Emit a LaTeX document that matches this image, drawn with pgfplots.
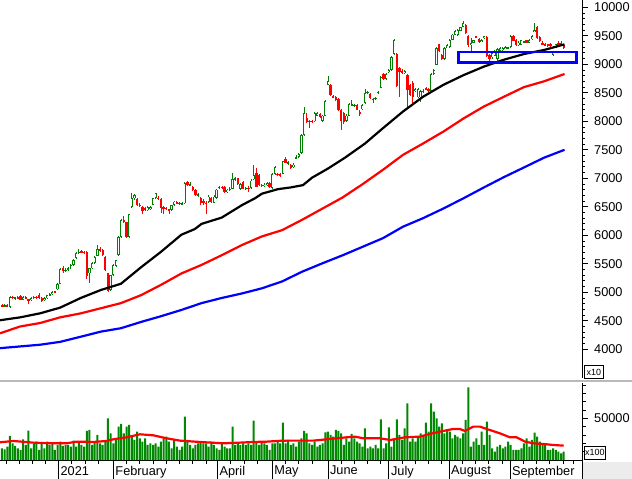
\documentclass[border=0pt]{standalone}
\usepackage{pgfplots}
\pgfplotsset{compat=1.18}
\usepackage{pgfplotstable}
\usepackage{fontspec}
\setmainfont{Liberation Sans}
\definecolor{cgreen}{RGB}{0,128,0}
\definecolor{vgreen}{RGB}{0,136,0}
\definecolor{cred}{RGB}{255,0,0}
\definecolor{cblue}{RGB}{0,0,255}
\pgfplotsset{
  /pgf/number format/assume math mode=true,
  /pgf/number format/1000 sep={},
  upc/.style={restrict expr to domain={\thisrow{c}-\thisrow{o}}{0.5:100000}},
  dnc/.style={restrict expr to domain={\thisrow{c}-\thisrow{o}}{-100000:0.5}},
  ebar/.style={only marks, mark=*, mark size=0pt, mark options={draw=none, fill=none}, forget plot,
    error bars/.cd, y dir=both, y explicit, error mark=none,
    error bar style={line cap=butt, #1}},
}
\pgfplotstableread{
i o h l c v
0 4770 4800 4740 4760 14000
1 4760 4790 4740 4770 12800
2 4770 4800 4750 4760 16000
3 4740 4930 4730 4920 28800
4 4920 4940 4880 4900 20000
5 4900 4920 4870 4910 16800
6 4910 4930 4880 4890 14000
7 4930 4950 4860 4870 12000
8 4870 4930 4860 4920 24800
9 4920 4940 4880 4890 18000
10 4880 4890 4800 4850 35200
11 4860 4910 4850 4900 14000
12 4900 4930 4880 4920 19200
13 4920 4940 4890 4910 22000
14 4950 4980 4890 4900 12000
15 4900 4920 4830 4850 20000
16 4860 4910 4850 4900 14000
17 4900 4960 4890 4950 22000
18 4950 4990 4930 4970 18000
19 4970 5030 4950 5010 20000
20 5010 5030 4980 5000 12000
21 5050 5160 5040 5150 18000
22 5150 5430 5140 5400 22000
23 5430 5460 5330 5380 17000
24 5380 5420 5350 5390 18000
25 5400 5450 5370 5420 18000
26 5420 5500 5400 5480 16000
27 5480 5580 5470 5570 23200
28 5600 5700 5590 5690 16000
29 5700 5760 5680 5710 22000
30 5720 5740 5690 5700 18000
31 5710 5730 5680 5700 16000
32 5700 5720 5230 5290 34800
33 5330 5430 5160 5420 36000
34 5420 5530 5400 5510 18000
35 5510 5630 5500 5620 22000
36 5640 5830 5630 5760 30000
37 5760 5790 5710 5740 20000
38 5740 5760 5640 5650 18000
39 5620 5640 5380 5390 22000
40 5330 5340 5010 5030 50000
41 5040 5310 5030 5300 32000
42 5300 5490 5280 5480 20000
43 5470 5570 5450 5560 24000
44 5650 5980 5640 5970 40000
45 5970 6280 5960 6270 43200
46 6260 6330 6220 6250 32000
47 6230 6240 5950 5970 40000
48 5970 6380 5960 6370 42000
49 6500 6740 6480 6650 28000
50 6650 6730 6620 6700 24000
51 6640 6660 6510 6530 34000
52 6530 6560 6500 6520 26000
53 6500 6520 6370 6430 22000
54 6480 6500 6420 6440 26000
55 6440 6510 6430 6500 18000
56 6460 6520 6450 6500 20000
57 6540 6660 6530 6650 18000
58 6650 6750 6640 6740 20000
59 6660 6690 6620 6640 16000
60 6630 6650 6390 6480 22000
61 6490 6520 6370 6480 26000
62 6480 6500 6440 6470 28000
63 6450 6470 6370 6440 22000
64 6440 6540 6430 6530 14000
65 6530 6600 6520 6590 24000
66 6590 6610 6550 6560 16000
67 6570 6590 6540 6560 12000
68 6540 6580 6530 6560 16000
69 6560 6930 6550 6910 52000
70 6940 6960 6860 6880 24000
71 6880 6930 6860 6900 18000
72 6850 6870 6780 6800 14000
73 6800 6810 6690 6700 18000
74 6700 6750 6680 6720 20000
75 6650 6670 6540 6560 22000
76 6610 6630 6540 6560 20000
77 6570 6600 6370 6560 20000
78 6590 6700 6570 6680 16000
79 6650 6670 6570 6590 22000
80 6570 6700 6560 6680 18000
81 6650 6820 6640 6800 14000
82 6830 6860 6810 6850 12000
83 6850 6870 6820 6840 20000
84 6840 6860 6740 6760 16000
85 6770 6820 6750 6800 14000
86 6800 6840 6780 6820 14000
87 6820 7090 6810 6990 40000
88 6990 7030 6960 7000 18000
89 7000 7010 6880 6900 20000
90 6820 6920 6800 6900 18000
91 6930 6950 6810 6820 20000
92 6820 6850 6800 6830 18000
93 6830 6860 6760 6825 20000
94 6830 6980 6820 6960 18000
95 6980 7240 6970 7060 47200
96 7090 7180 6840 6850 22000
97 7060 7070 6860 6880 18000
98 6880 6900 6840 6870 22000
99 6860 6910 6850 6890 20000
100 6880 6940 6860 6920 18000
101 6920 6930 6830 6840 12000
102 6830 7090 6820 7080 20000
103 7080 7220 7060 7200 20000
104 7080 7100 7040 7060 22000
105 7065 7090 7030 7060 20000
106 7080 7310 7070 7300 44800
107 7330 7380 7260 7270 20000
108 7260 7300 7240 7280 24000
109 7240 7250 7160 7180 18000
110 7200 7260 7180 7240 20000
111 7350 7400 7340 7360 16000
112 7370 7450 7360 7430 22000
113 7440 7780 7430 7760 26000
114 7760 8250 7750 8140 34800
115 8050 8140 7970 7990 32000
116 8005 8030 7890 8000 20000
117 8005 8030 7970 8000 18000
118 8000 8160 7990 8140 22000
119 8100 8170 8090 8140 16000
120 8130 8150 8060 8080 18000
121 8000 8110 7990 8100 20000
122 8100 8370 8090 8350 33000
123 8640 8800 8630 8710 34000
124 8640 8660 8440 8460 30000
125 8440 8470 8400 8430 28000
126 8420 8440 8360 8380 36000
127 8390 8400 8180 8200 35000
128 8200 8210 7850 8000 32000
129 8140 8160 7960 7990 18000
130 8000 8120 7980 8100 26000
131 8100 8320 8090 8300 22000
132 8280 8370 8260 8290 31200
133 8270 8310 8250 8290 26000
134 8280 8300 8190 8200 22000
135 8170 8190 8100 8120 20000
136 8210 8300 8190 8290 16000
137 8320 8560 8310 8500 38000
138 8500 8540 8480 8520 14000
139 8480 8500 8390 8410 16000
140 8385 8400 8320 8380 14000
141 8390 8430 8380 8410 18000
142 8500 8540 8480 8520 14000
143 8590 8790 8580 8780 48800
144 8830 8840 8720 8740 14000
145 8740 8850 8730 8830 20000
146 8860 8910 8850 8900 39200
147 8900 9140 8890 9130 16000
148 9180 9440 9170 9430 24000
149 9180 9200 8600 8620 48800
150 8930 8960 8430 8870 30000
151 8880 8920 8830 8850 24000
152 8850 8900 8830 8880 38000
153 8810 8830 8250 8550 68000
154 8630 8650 8440 8460 22000
155 8680 8700 8320 8420 26000
156 8530 8590 8510 8570 22000
157 8420 8580 8400 8560 28000
158 8420 8550 8330 8530 32000
159 8520 8560 8500 8540 30000
160 8575 8600 8550 8570 44800
161 8570 8590 8520 8540 34000
162 8530 8840 8520 8830 68000
163 8830 8920 8820 8900 58000
164 8990 9300 8980 9290 50000
165 9350 9360 9210 9230 40000
166 9160 9180 9070 9090 44000
167 9090 9300 9080 9290 32000
168 9290 9350 9280 9330 36000
169 9300 9440 9290 9430 34000
170 9430 9530 9420 9520 26000
171 9520 9600 9510 9580 30000
172 9510 9620 9500 9600 28000
173 9590 9660 9580 9650 26000
174 9660 9760 9650 9720 32000
175 9690 9700 9540 9550 48000
176 9500 9510 9310 9330 87200
177 9330 9460 9200 9370 16000
178 9380 9430 9370 9420 22000
179 9485 9500 9460 9480 26000
180 9450 9470 9380 9390 18000
181 9400 9450 9390 9430 34000
182 9460 9500 9450 9490 18000
183 9480 9490 9120 9140 46000
184 9160 9180 9040 9100 30000
185 9120 9220 9100 9200 14000
186 9150 9250 9140 9230 10000
187 9100 9280 9040 9270 16000
188 9230 9300 9220 9290 18000
189 9250 9310 9240 9290 14000
190 9270 9320 9260 9300 16000
191 9280 9310 9270 9300 22000
192 9300 9510 9290 9500 18000
193 9500 9520 9400 9410 12000
194 9430 9440 9320 9330 12000
195 9330 9400 9320 9380 12000
196 9340 9430 9330 9420 14000
197 9380 9410 9370 9400 20000
198 9420 9430 9370 9380 26000
199 9380 9440 9370 9430 16000
200 9440 9510 9430 9500 24000
201 9570 9720 9560 9600 32800
202 9660 9670 9450 9460 28000
203 9480 9490 9390 9400 22000
204 9365 9400 9340 9360 18000
205 9345 9370 9320 9340 20000
206 9350 9360 9310 9330 12000
207 9350 9370 9300 9320 12000
208 9160 9240 9150 9220 14000
209 9290 9360 9280 9350 12000
210 9365 9400 9340 9360 10000
211 9380 9400 9320 9330 8000
212 9330 9340 9260 9280 10000
}\candles
\begin{document}
\begin{tikzpicture}[x=1bp,y=1bp]
\useasboundingbox (0bp,0bp) rectangle (632bp,479bp);
\fill[gray!15] (583bp,0bp) rectangle (632bp,17bp);
\begin{axis}[at={(0bp,479bp)}, anchor=north west, scale only axis,
  width=582bp, height=378bp,
  xmin=-0.75, xmax=218.9, ymin=3496.5, ymax=10128,
  axis x line=none, axis y line*=right,
  ytick={4000,4500,...,10000}, minor y tick num=4,
  scaled y ticks=false,
  tick align=outside, major tick length=6bp, minor tick length=3bp,
  every tick/.style={black, line width=0.8bp},
  axis line style={black, line width=0.8bp},
  yticklabel style={font=\fontsize{12.8}{14}\selectfont, anchor=west, inner sep=0pt, xshift=6bp},
]
% wicks
\addplot[upc, ebar={cgreen, line width=0.8bp}] table[x=i, y expr={(\thisrow{h}+\thisrow{l})/2}, y error expr={(\thisrow{h}-\thisrow{l})/2}] {\candles};
\addplot[dnc, ebar={cred, line width=0.8bp}] table[x=i, y expr={(\thisrow{h}+\thisrow{l})/2}, y error expr={(\thisrow{h}-\thisrow{l})/2}] {\candles};
% bodies
\addplot[upc, ebar={cgreen, line width=2.3bp}] table[x=i, y expr={(\thisrow{o}+\thisrow{c})/2}, y error expr={max((\thisrow{c}-\thisrow{o})/2,10)}] {\candles};
\addplot[upc, ebar={white, line width=0.7bp}] table[x=i, y expr={(\thisrow{o}+\thisrow{c})/2}, y error expr={max((\thisrow{c}-\thisrow{o})/2-14,0)}] {\candles};
\addplot[dnc, ebar={cred, line width=2.3bp}] table[x=i, y expr={(\thisrow{o}+\thisrow{c})/2}, y error expr={max((\thisrow{o}-\thisrow{c})/2,10)}] {\candles};
% moving averages
\addplot[cblue, line width=2.2bp, mark=none] coordinates {(-0.75,4020) (6.8,4050) (14.3,4080) (21.9,4130) (29.7,4220) (37.3,4310) (44.9,4370) (52.5,4480) (60,4580) (67.7,4690) (75.3,4810) (82.9,4900) (90.6,4980) (98.1,5070) (105.7,5190) (113.2,5360) (121,5510) (128.6,5650) (136.2,5800) (143.8,5950) (151.3,6150) (158.9,6300) (166.6,6470) (174.2,6650) (181.9,6840) (189.4,7020) (197,7190) (204.5,7360) (212.3,7500)};
\addplot[cred, line width=2.2bp, mark=none] coordinates {(-0.75,4280) (6.8,4400) (14.3,4460) (21.9,4560) (29.7,4630) (37.3,4720) (44.9,4810) (52.5,4950) (60,5130) (67.7,5330) (75.3,5480) (82.9,5650) (90.6,5830) (98.1,5980) (105.7,6090) (113.2,6270) (121,6470) (128.6,6665) (136.2,6900) (143.8,7150) (151.3,7410) (158.9,7610) (166.6,7820) (174.2,8050) (181.9,8260) (189.4,8430) (197,8600) (204.5,8700) (212.3,8830)};
\addplot[black, line width=2.2bp, mark=none] coordinates {(-0.75,4510) (6.8,4560) (14.3,4630) (21.9,4730) (29.7,4900) (37.3,5040) (44.9,5150) (52.5,5440) (60,5710) (67.7,6010) (72.8,6110) (75.3,6200) (82.9,6310) (90.6,6530) (95.5,6650) (98.1,6730) (104.2,6810) (109,6840) (113.6,6880) (117,7010) (123,7170) (129.4,7360) (137,7610) (143.8,7880) (151.3,8170) (158.9,8430) (166.6,8640) (174.2,8810) (181.9,8960) (189.4,9080) (197,9180) (204.5,9250) (212.3,9350)};
% highlighted zone
\addplot[cblue, line width=2.5bp, line cap=rect, mark=none] coordinates {(172.2,9035) (216.9,9035) (216.9,9220) (172.2,9220) (172.2,9035)};
\end{axis}
\begin{axis}[at={(0bp,19bp)}, anchor=south west, scale only axis,
  width=582bp, height=77bp, clip=false,
  xmin=-0.75, xmax=218.9, ymin=0, ymax=92300,
  axis y line*=right, axis x line*=bottom,
  ytick={50000}, minor ytick={10000,20000,30000,40000,60000,70000,80000,90000},
  scaled y ticks=false,
  xtick={21.3,42,81.3,102,123,146,168.7,191.7},
  xticklabels={2021,February,April,May,June,July,August,September},
  minor xtick={1.5,6.5,11.5,16.5,26.3,31.3,36.3,47,52,57,62,67,72,77,86.3,91.3,96.3,107,112,117,128,133,138,143,151,156,161,166,173.7,178.7,183.7,188.7,196.7,201.7,206.7,211.7,215.5},
  tick align=outside, major tick length=6bp, minor tick length=4bp,
  every tick/.style={black, line width=0.8bp},
  axis line style={black, line width=0.8bp},
  yticklabel style={font=\fontsize{12.8}{14}\selectfont, anchor=west, inner sep=0pt, xshift=6bp},
  xticklabel style={font=\fontsize{12.8}{14}\selectfont, anchor=north west, inner sep=0pt, xshift=2bp},
]
\addplot[ybar, bar width=2bp, bar shift=0pt, fill=vgreen, draw=none] table[x=i, y=v] {\candles};
\addplot[cred, line width=2.2bp, mark=none] coordinates {(-0.75,21200) (4.3,22800) (11.8,20800) (18.1,20000) (24.4,20000) (28.2,22000) (34.5,21600) (39.5,22800) (42,24800) (47,27200) (52.1,30800) (57.1,29600) (62.1,26000) (67.2,23200) (74.7,21600) (83.5,20000) (89.8,20800) (94.8,21600) (99.9,22000) (104.9,23000) (107.4,23200) (117.5,23200) (122.5,24800) (130.1,27200) (133.2,28000) (136.4,26000) (142.7,26000) (146.5,24000) (152.1,27200) (157.7,28000) (161.5,31200) (165.3,34000) (170.3,37200) (172.8,37200) (174.7,34800) (177.9,40000) (180.4,40000) (182.9,37200) (187.9,32000) (191.7,27200) (194.2,27200) (197.4,22000) (200.5,20000) (204.3,19200) (208.1,18000) (212,17200)};
\pgfplotsinvokeforeach{21.3,42,81.3,102,123,146,168.7,191.7}{
  \draw[black, line width=0.8bp] (axis cs:#1,0) -- ++(0bp,-19bp);
}
\end{axis}
\draw[gray!55, line width=2bp] (0bp,98bp) -- (632bp,98bp);
\draw[black, line width=0.8bp] (582.4bp,0bp) -- (582.4bp,19bp);
\node[draw=black, line width=0.6bp, fill=white, inner sep=0pt, minimum width=19bp, minimum height=13bp, anchor=south west, font=\fontsize{9}{10}\selectfont] at (584bp,100bp) {x10};
\node[draw=black, line width=0.6bp, fill=white, inner sep=0pt, minimum width=21bp, minimum height=13bp, anchor=south west, font=\fontsize{9}{10}\selectfont] at (584bp,19.5bp) {x100};
\end{tikzpicture}
\end{document}
